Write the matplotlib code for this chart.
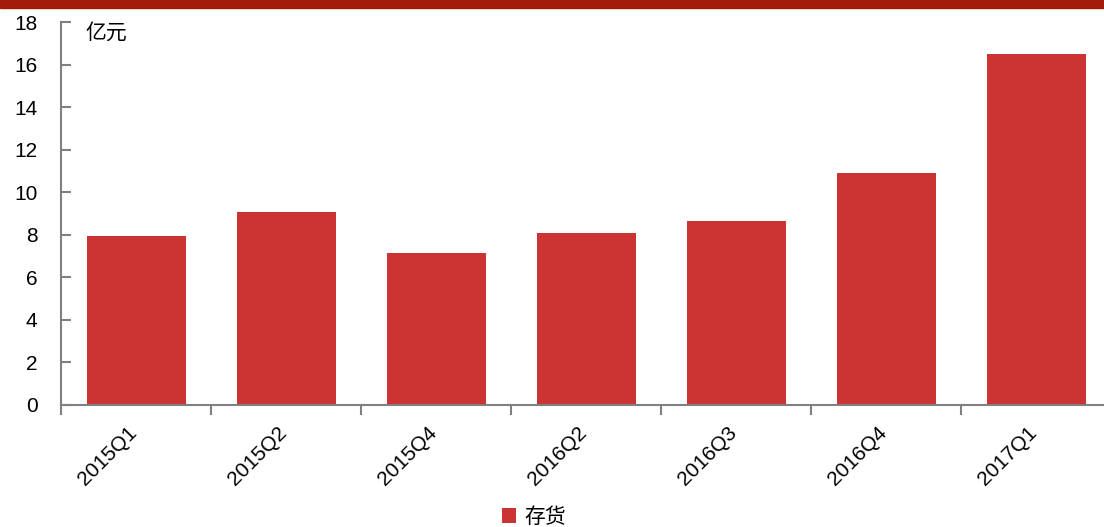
import matplotlib
matplotlib.use("Agg")
import matplotlib.pyplot as plt
from matplotlib.patches import Rectangle
import matplotlib.transforms as mtransforms
import numpy as np

categories = ["2015Q1", "2015Q2", "2015Q4", "2016Q2", "2016Q3", "2016Q4", "2017Q1"]
values = [7.94, 9.07, 7.14, 8.08, 8.65, 10.88, 16.49]
yticks = [0, 2, 4, 6, 8, 10, 12, 14, 16, 18]
series_name = "存货"
unit_label = "亿元"

plt.rcParams['font.family'] = ['Liberation Sans', 'Noto Sans CJK SC', 'DejaVu Sans']

W, H = 1104, 527
fig = plt.figure(figsize=(W / 100, H / 100), dpi=100)

# top band
fig.patches.append(Rectangle((0, 1 - 8 / H), 1, 8 / H, transform=fig.transFigure,
                             color="#A31A0B", zorder=0))

ax = fig.add_axes([61 / W, 1 - 405 / H, 1050 / W, 383 / H])
x = np.arange(len(categories))
bars = ax.bar(x, values, width=0.66, color="#CC3333", label=series_name, zorder=2)

ax.set_xlim(-0.5, len(categories) - 0.5)
ax.set_ylim(0, 18)
ax.set_yticks(yticks)
ax.set_yticklabels([str(t) for t in yticks], fontsize=15)

ax.set_xticks(x)
ax.set_xticklabels(categories, rotation=45, ha='right', fontsize=15)
ax.set_xticks(np.arange(len(categories) + 1) - 0.5, minor=True)
ax.tick_params(axis='x', which='major', length=0, pad=13)
ax.tick_params(axis='x', which='minor', length=7, width=1.5, color="#808080", direction='out')
ax.tick_params(axis='y', which='major', length=7, width=1.5, color="#808080", direction='in', pad=17)

shift = mtransforms.ScaledTranslation(5 / 100, 0, fig.dpi_scale_trans)
for lbl in ax.get_xticklabels():
    lbl.set_transform(lbl.get_transform() + shift)

for s in ['top', 'right']:
    ax.spines[s].set_visible(False)
for s in ['left', 'bottom']:
    ax.spines[s].set_color("#808080")
    ax.spines[s].set_linewidth(1.5)

ax.text(85 / W, 1 - 33 / H, unit_label, transform=fig.transFigure, fontsize=15,
        ha='left', va='center')

fig.legend(handles=[bars], labels=[series_name], loc='center',
           bbox_to_anchor=(534 / W, 1 - 517 / H), frameon=False, fontsize=15,
           handlelength=0.7, handleheight=0.7, handletextpad=0.4)

fig.savefig("out.png", dpi=100)
